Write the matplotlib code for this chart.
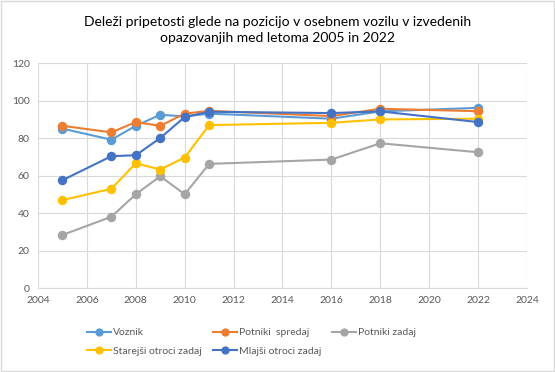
import matplotlib
matplotlib.use('Agg')
import matplotlib.pyplot as plt
from matplotlib.patches import Rectangle

plt.rcParams['font.family'] = ['Lato', 'DejaVu Sans']

years = [2005, 2007, 2008, 2009, 2010, 2011, 2016, 2018, 2022]
voznik = [85.0, 79.1, 86.5, 92.4, 91.5, 93.0, 90.3, 94.2, 96.1]
potniki_spredaj = [86.5, 83.0, 88.5, 86.5, 93.0, 94.5, 91.7, 95.6, 94.3]
potniki_zadaj = [28.3, 38.0, 50.0, 59.6, 50.0, 66.2, 68.5, 77.2, 72.4]
starejsi = [46.9, 52.9, 66.5, 63.2, 69.6, 86.9, 88.1, 89.9, 90.3]
mlajsi = [57.5, 70.3, 70.8, 80.0, 91.2, 94.0, 93.3, 94.2, 88.5]

series = [
    ('Voznik', voznik, '#5B9BD5'),
    ('Potniki  spredaj', potniki_spredaj, '#ED7D31'),
    ('Potniki zadaj', potniki_zadaj, '#A5A5A5'),
    ('Starejši otroci zadaj', starejsi, '#FFC000'),
    ('Mlajši otroci zadaj', mlajsi, '#4472C4'),
]

title = 'Deleži pripetosti glede na pozicijo v osebnem vozilu v izvedenih\nopazovanjih med letoma 2005 in 2022'

fig = plt.figure(figsize=(5.55, 3.72), dpi=100)
ax = fig.add_axes([0.0685, 0.2258, 0.881, 0.6048])

handles = {}
for name, vals, col in series:
    h, = ax.plot(years, vals, color=col, lw=1.5, marker='o', markersize=5.8,
                 label=name)
    handles[name] = h

ax.set_xlim(2004, 2024)
ax.set_ylim(0, 120)
ax.set_xticks(range(2004, 2025, 2))
ax.set_yticks(range(0, 121, 20))
ax.grid(True, color='#D9D9D9', lw=0.8)
ax.set_axisbelow(True)
for s in ['top', 'right', 'left']:
    ax.spines[s].set_visible(False)
ax.spines['bottom'].set_color('#D9D9D9')
ax.tick_params(length=0, labelsize=7.5, labelcolor='#595959', pad=6)

fig.text(0.5, 1 - 30 / 372, title, ha='center', va='center', fontsize=10,
         color='#000000', linespacing=1.45)

# Excel fills the legend row by row, matplotlib column by column
order = ['Voznik', 'Starejši otroci zadaj', 'Potniki  spredaj',
         'Mlajši otroci zadaj', 'Potniki zadaj']
fig.legend([handles[n] for n in order], order, ncol=3, loc='center left',
           bbox_to_anchor=(78 / 555, 1 - 342 / 372), frameon=False, fontsize=7.5,
           handlelength=2.3, handletextpad=0.15, columnspacing=1.1,
           labelcolor='#595959', labelspacing=0.9, markerscale=0.85)

fig.patches.append(Rectangle((0.001, 0.002), 0.997, 0.995, transform=fig.transFigure,
                             fill=False, edgecolor='#D9D9D9', lw=1))

fig.savefig('out.png', dpi=100)
